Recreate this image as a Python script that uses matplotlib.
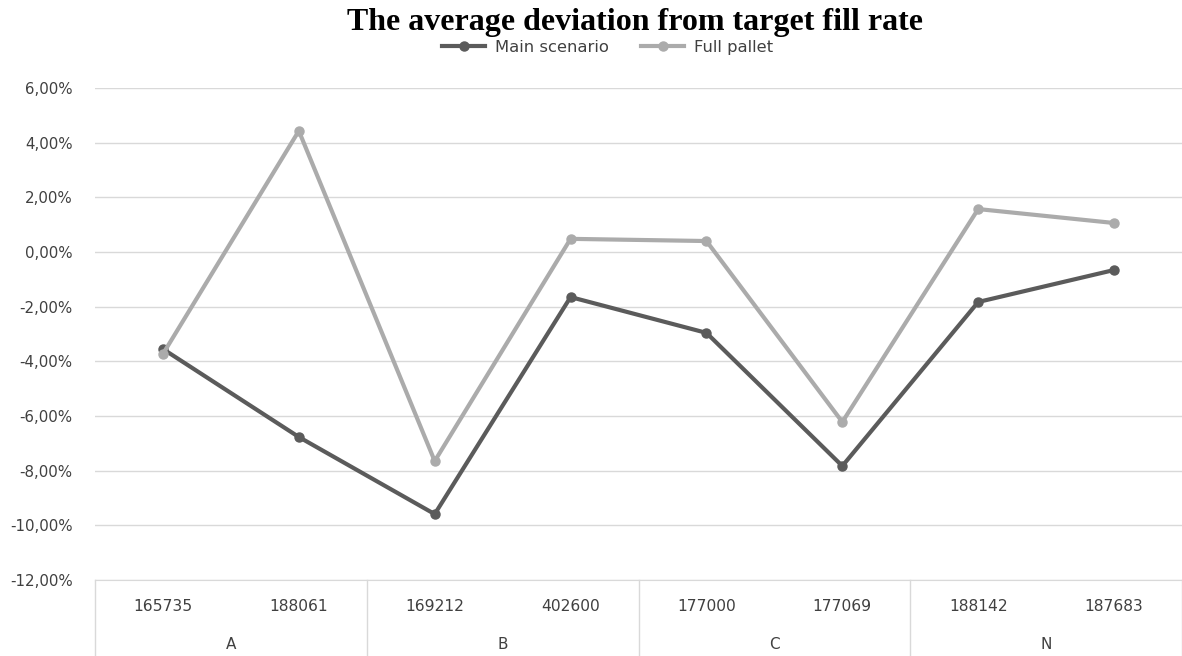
import numpy as np
import matplotlib
matplotlib.use("Agg")
import matplotlib.pyplot as plt
from matplotlib.ticker import FuncFormatter

# deviation from target fill rate, in percent
items = ["165735", "188061", "169212", "402600", "177000", "177069", "188142", "187683"]
groups = ["A", "B", "C", "N"]
main_scenario = [-3.55, -6.77, -9.59, -1.65, -2.96, -7.83, -1.83, -0.66]
full_pallet = [-3.73, 4.43, -7.65, 0.48, 0.40, -6.22, 1.57, 1.06]

dark = "#5b5b5b"
light = "#ababab"
text_col = "#404040"
font = "DejaVu Sans"

fig = plt.figure(figsize=(11.82, 6.56), dpi=100)
ax = fig.add_axes([0.0804, 0.1159, 0.9196, 0.75])

x = np.arange(len(items))
ax.plot(x, main_scenario, color=dark, lw=3, marker="o", ms=6.5, label="Main scenario", zorder=3)
ax.plot(x, full_pallet, color=light, lw=3, marker="o", ms=6.5, label="Full pallet", zorder=3)

ax.set_xlim(-0.5, len(items) - 0.5)
ax.set_ylim(-12, 6)
ax.set_yticks(np.arange(-12, 7, 2))
ax.yaxis.set_major_formatter(FuncFormatter(lambda v, p: f"{v:.2f}%".replace(".", ",")))
ax.grid(axis="y", color="#d9d9d9", lw=1)
ax.set_axisbelow(True)

for s in ["left", "right", "top"]:
    ax.spines[s].set_visible(False)
ax.spines["bottom"].set_color("#d9d9d9")
ax.tick_params(axis="y", length=0, pad=16, labelsize=10.8, labelcolor=text_col)
ax.tick_params(axis="x", length=0, pad=14, labelsize=11.2, labelcolor=text_col)
ax.set_xticks(x)
ax.set_xticklabels(items)
for lab in ax.get_yticklabels() + ax.get_xticklabels():
    lab.set_family(font)

# category table below the axis
trans = ax.get_xaxis_transform()
for xs in np.arange(-0.5, len(items), 2):
    ax.plot([xs, xs], [0, -0.16], transform=trans, color="#d9d9d9", lw=1, clip_on=False)
for i, g in enumerate(groups):
    ax.text(2 * i + 0.5, -0.132, g, transform=trans, ha="center", va="center",
            fontsize=11, color=text_col, family=font)

fig.text(0.537, 0.966, "The average deviation from target fill rate", ha="center", va="center",
         fontsize=23, fontweight="bold", family="Liberation Serif")
fig.legend(loc="center", bbox_to_anchor=(0.514, 0.928), ncol=2, frameon=False,
           handlelength=2.6, columnspacing=2.0, labelcolor=text_col, handletextpad=0.6,
           borderpad=0, prop={"family": font, "size": 11.8})

fig.savefig("out.png", dpi=100)
